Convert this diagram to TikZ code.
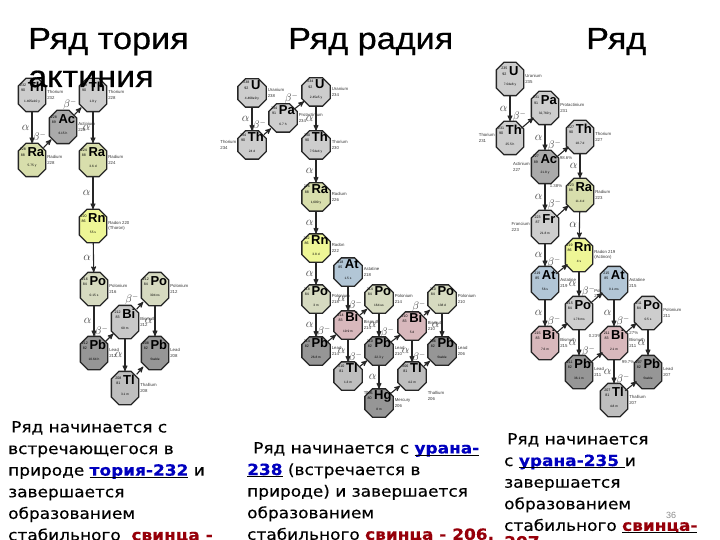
\documentclass[tikz,border=0pt]{standalone}
\usepackage{xcolor}
\usepackage{fontspec}
\setmainfont[FakeStretch=1.1,FakeBold=0.4]{DejaVu Sans}
\newfontfamily\titlefont[FakeStretch=1.12,FakeBold=0.6]{Liberation Sans}
\newfontfamily\smallfont{Liberation Sans}
\definecolor{thGray}{RGB}{205,205,205}
\definecolor{acGray}{RGB}{170,170,170}
\definecolor{raGreen}{RGB}{216,222,172}
\definecolor{rnYellow}{RGB}{238,246,150}
\definecolor{poGreen}{RGB}{214,218,192}
\definecolor{biPink}{RGB}{216,184,188}
\definecolor{biGray}{RGB}{200,200,200}
\definecolor{pbGray}{RGB}{150,150,150}
\definecolor{tlGray}{RGB}{190,190,190}
\definecolor{atBlue}{RGB}{178,198,214}
\definecolor{linkBlue}{RGB}{0,0,190}
\definecolor{leadRed}{RGB}{150,0,10}
\usepackage{tikz}
\usetikzlibrary{arrows,shapes,positioning}
\makeatletter
\pgfdeclareshape{nuclidebox}{
  \inheritsavedanchors[from=rectangle]
  \inheritanchorborder[from=rectangle]
  \inheritanchor[from=rectangle]{center}
  \inheritanchor[from=rectangle]{north}
  \inheritanchor[from=rectangle]{south}
  \inheritanchor[from=rectangle]{east}
  \inheritanchor[from=rectangle]{west}
  \inheritanchor[from=rectangle]{north east}
  \inheritanchor[from=rectangle]{north west}
  \inheritanchor[from=rectangle]{south east}
  \inheritanchor[from=rectangle]{south west}
  \backgroundpath{
    \southwest \pgf@xa=\pgf@x \pgf@ya=\pgf@y
    \northeast \pgf@xb=\pgf@x \pgf@yb=\pgf@y
    \pgfpathmoveto{\pgfpoint{\pgf@xa}{\pgf@ya+7.5pt}}
    \pgfpathlineto{\pgfpoint{\pgf@xa}{\pgf@yb-7.5pt}}
    \pgfpathlineto{\pgfpoint{\pgf@xa+7.5pt}{\pgf@yb}}
    \pgfpathlineto{\pgfpoint{\pgf@xb-7.5pt}{\pgf@yb}}
    \pgfpathlineto{\pgfpoint{\pgf@xb}{\pgf@yb-7.5pt}}
    \pgfpathlineto{\pgfpoint{\pgf@xb}{\pgf@ya+7.5pt}}
    \pgfpathlineto{\pgfpoint{\pgf@xb-7.5pt}{\pgf@ya}}
    \pgfpathlineto{\pgfpoint{\pgf@xa+7.5pt}{\pgf@ya}}
    \pgfpathclose
  }
}
\makeatother
\tikzstyle{nuclide}=[nuclidebox, draw=black!85, line width=1.3pt, inner sep=0pt, minimum width=27pt, minimum height=27pt, text=black]
\tikzstyle{tall}=[minimum width=26pt, minimum height=32pt]
\tikzstyle{namemark}=[font=\smallfont\fontsize{4.3}{5.6}\selectfont, align=left, text=black!80, inner sep=1.5pt]
\tikzstyle{decayarrow}=[->, >=stealth', line width=1.1pt, color=black!85]
\tikzstyle{betaarrow}=[decayarrow, shorten >=-3pt, shorten <=-3pt]
\tikzstyle{alphamark}=[midway, left, font=\fontsize{12}{12}\selectfont, inner sep=2pt, text=black!75]
\tikzstyle{betamark}=[midway, above left, font=\fontsize{10.5}{10.5}\selectfont, inner sep=0.5pt, text=black!75]
\tikzstyle{percentmark}=[font=\smallfont\fontsize{4.3}{5}\selectfont, text=black!75, inner sep=0pt]
\tikzstyle{titletext}=[anchor=base west, font=\titlefont\fontsize{30.5}{30.5}\selectfont, inner sep=0pt]
\tikzstyle{bodytext}=[anchor=north west, align=left, font=\fontsize{15.4}{21.6}\selectfont, inner sep=0pt]
\newcommand{\nuc}[4]{\smash{\makebox[0pt]{\parbox[c]{26pt}{\centering\smallfont{\fontsize{3.6}{3.8}\selectfont\shortstack{#1\\#2}}\,{\fontsize{13}{13}\selectfont\bfseries #3}\\[-1.5pt]{\fontsize{3.2}{4}\selectfont #4}}}}}
\newcommand{\thlink}[1]{\underline{\smash{\textcolor{linkBlue}{\textbf{#1}}}}}
\newcommand{\pblink}[1]{\underline{\smash{\textcolor{leadRed}{\textbf{#1}}}}}

\begin{document}
\begin{tikzpicture}[x=1pt,y=-1pt]
        \useasboundingbox (0,0) rectangle (720,540);

        % Ряд тория
        \node[nuclide, tall, fill=thGray, label={[namemark]right:Thorium\\232}] (th232) at (32,95) {\nuc{232}{90}{Th}{1.405e10 y}};
        \node[nuclide, tall, fill=raGreen, label={[namemark]right:Radium\\228}] (ra228) at (32,160) {\nuc{228}{88}{Ra}{5.75 y}};
        \node[nuclide, tall, fill=acGray, label={[namemark]right:Actinium\\228}] (ac228) at (63,127) {\nuc{228}{89}{Ac}{6.15 h}};
        \node[nuclide, tall, fill=thGray, label={[namemark]right:Thorium\\228}] (th228) at (93,95) {\nuc{228}{90}{Th}{1.9 y}};
        \node[nuclide, tall, fill=raGreen, label={[namemark]right:Radium\\224}] (ra224) at (93,160) {\nuc{224}{88}{Ra}{3.6 d}};
        \node[nuclide, tall, fill=rnYellow, label={[namemark]right:Radon 220\\(Thoron)}] (rn220) at (93,226) {\nuc{220}{86}{Rn}{55 s}};
        \node[nuclide, tall, fill=poGreen, label={[namemark]right:Polonium\\216}] (po216) at (94,289) {\nuc{216}{84}{Po}{0.15 s}};
        \node[nuclide, tall, fill=pbGray, label={[namemark]right:Lead\\212}] (pb212) at (94,353) {\nuc{212}{82}{Pb}{10.64 h}};
        \node[nuclide, tall, fill=biGray, label={[namemark]right:Bismuth\\212}] (bi212) at (125,322) {\nuc{212}{83}{Bi}{60 m}};
        \node[nuclide, tall, fill=poGreen, label={[namemark]right:Polonium\\212}] (po212) at (155,289) {\nuc{212}{84}{Po}{304 ns}};
        \node[nuclide, tall, fill=pbGray, label={[namemark]right:Lead\\208}] (pb208) at (155,353) {\nuc{208}{82}{Pb}{Stable}};
        \node[nuclide, tall, fill=tlGray, label={[namemark]right:Thallium\\208}] (tl208) at (125,388) {\nuc{208}{81}{Tl}{3.1 m}};

        \draw[decayarrow] (th232) -- node[alphamark] {$\alpha$} (ra228);
        \draw[betaarrow] (ra228) -- node[betamark] {$\beta^-$} (ac228);
        \draw[betaarrow] (ac228) -- node[betamark] {$\beta^-$} (th228);
        \draw[decayarrow] (th228) -- node[alphamark] {$\alpha$} (ra224);
        \draw[decayarrow] (ra224) -- node[alphamark] {$\alpha$} (rn220);
        \draw[decayarrow] (rn220) -- node[alphamark] {$\alpha$} (po216);
        \draw[decayarrow] (po216) -- node[alphamark] {$\alpha$} (pb212);
        \draw[betaarrow] (pb212) -- node[betamark] {$\beta^-$} (bi212);
        \draw[betaarrow] (bi212) -- node[betamark] {$\beta^-$} (po212);
        \draw[decayarrow] (bi212) -- node[alphamark] {$\alpha$} (tl208);
        \draw[decayarrow] (po212) -- node[alphamark] {$\alpha$} (pb208);
        \draw[betaarrow] (tl208) -- (pb208);

        % Ряд радия
        \node[nuclide, fill=thGray, label={[namemark]right:Uranium\\238}] (u238) at (252,93) {\nuc{238}{92}{U}{4.468e9 y}};
        \node[nuclide, fill=thGray, label={[namemark]left:Thorium\\234}] (th234) at (252,145) {\nuc{234}{90}{Th}{24 d}};
        \node[nuclide, fill=thGray, label={[namemark]right:Protactinium\\234}] (pa234) at (283,118) {\nuc{234}{91}{Pa}{6.7 h}};
        \node[nuclide, fill=thGray, label={[namemark]right:Uranium\\234}] (u234) at (316,92) {\nuc{234}{92}{U}{2.45e5 y}};
        \node[nuclide, fill=thGray, label={[namemark]right:Thorium\\230}] (th230) at (316,145) {\nuc{230}{90}{Th}{7.54e4 y}};
        \node[nuclide, fill=raGreen, label={[namemark]right:Radium\\226}] (ra226) at (316,197) {\nuc{226}{88}{Ra}{1,600 y}};
        \node[nuclide, fill=rnYellow, label={[namemark]right:Radon\\222}] (rn222) at (316,248) {\nuc{222}{86}{Rn}{3.8 d}};
        \node[nuclide, fill=atBlue, label={[namemark]right:Astatine\\218}] (at218) at (348,272) {\nuc{218}{85}{At}{1.5 s}};
        \node[nuclide, fill=poGreen, label={[namemark]right:Polonium\\218}] (po218) at (316,299) {\nuc{218}{84}{Po}{3 m}};
        \node[nuclide, fill=biPink, label={[namemark]right:Bismuth\\214}] (bi214) at (348,325) {\nuc{214}{83}{Bi}{19.9 m}};
        \node[nuclide, fill=poGreen, label={[namemark]right:Polonium\\214}] (po214) at (379,299) {\nuc{214}{84}{Po}{164 us}};
        \node[nuclide, fill=pbGray, label={[namemark]right:Lead\\214}] (pb214) at (316,351) {\nuc{214}{82}{Pb}{26.8 m}};
        \node[nuclide, fill=tlGray, label={[namemark]below right:Thallium\\210}] (tl210) at (348,376) {\nuc{210}{81}{Tl}{1.3 m}};
        \node[nuclide, fill=pbGray, label={[namemark]right:Lead\\210}] (pb210) at (379,351) {\nuc{210}{82}{Pb}{22.3 y}};
        \node[nuclide, fill=biPink, label={[namemark]right:Bismuth\\210}] (bi210) at (412,326) {\nuc{210}{83}{Bi}{5 d}};
        \node[nuclide, fill=poGreen, label={[namemark]right:Polonium\\210}] (po210) at (442,299) {\nuc{210}{84}{Po}{138 d}};
        \node[nuclide, fill=pbGray, label={[namemark]right:Lead\\206}] (pb206) at (442,351) {\nuc{206}{82}{Pb}{Stable}};
        \node[nuclide, fill=tlGray, label={[namemark]below right:Thallium\\206}] (tl206) at (412,376) {\nuc{206}{81}{Tl}{4.2 m}};
        \node[nuclide, fill=pbGray, label={[namemark]right:Mercury\\206}] (hg206) at (379,403) {\nuc{206}{80}{Hg}{8 m}};

        \draw[decayarrow] (u238) -- node[alphamark] {$\alpha$} (th234);
        \draw[betaarrow] (th234) -- node[betamark] {$\beta^-$} (pa234);
        \draw[betaarrow] (pa234) -- node[betamark] {$\beta^-$} (u234);
        \draw[decayarrow] (u234) -- node[alphamark] {$\alpha$} (th230);
        \draw[decayarrow] (th230) -- node[alphamark] {$\alpha$} (ra226);
        \draw[decayarrow] (ra226) -- node[alphamark] {$\alpha$} (rn222);
        \draw[decayarrow] (rn222) -- node[alphamark] {$\alpha$} (po218);
        \draw[decayarrow] (po218) -- node[alphamark] {$\alpha$} (pb214);
        \draw[decayarrow] (at218) -- node[alphamark] {$\alpha$} (bi214);
        \draw[betaarrow] (pb214) -- node[betamark] {$\beta^-$} (bi214);
        \draw[betaarrow] (bi214) -- node[betamark] {$\beta^-$} (po214);
        \draw[decayarrow] (bi214) -- node[alphamark] {$\alpha$} (tl210);
        \draw[decayarrow] (po214) -- node[alphamark] {$\alpha$} (pb210);
        \draw[betaarrow] (tl210) -- node[betamark] {$\beta^-$} (pb210);
        \draw[decayarrow] (pb210) -- node[alphamark] {$\alpha$} (hg206);
        \draw[betaarrow] (pb210) -- node[betamark] {$\beta^-$} (bi210);
        \draw[betaarrow] (bi210) -- node[betamark] {$\beta^-$} (po210);
        \draw[decayarrow] (bi210) -- node[alphamark] {$\alpha$} (tl206);
        \draw[decayarrow] (po210) -- node[alphamark] {$\alpha$} (pb206);
        \draw[betaarrow] (tl206) -- node[betamark] {$\beta^-$} (pb206);
        \draw[betaarrow] (hg206) -- (tl206);

        % Ряд актиния
        \node[nuclide, tall, fill=thGray, label={[namemark]right:Uranium\\235}] (u235) at (510,79) {\nuc{235}{92}{U}{7.04e8 y}};
        \node[nuclide, tall, fill=thGray, label={[namemark]left:Thorium\\231}] (th231) at (510,138) {\nuc{231}{90}{Th}{25.5 h}};
        \node[nuclide, tall, fill=thGray, label={[namemark]right:Protactinium\\231}] (pa231) at (545,108) {\nuc{231}{91}{Pa}{32,760 y}};
        \node[nuclide, tall, fill=acGray, label={[namemark]left:Actinium\\227}] (ac227) at (545,167) {\nuc{227}{89}{Ac}{21.8 y}};
        \node[nuclide, tall, fill=thGray, label={[namemark]right:Thorium\\227}] (th227) at (580,137) {\nuc{227}{90}{Th}{18.7 d}};
        \node[nuclide, tall, fill=raGreen, label={[namemark]right:Radium\\223}] (ra223) at (580,195) {\nuc{223}{88}{Ra}{11.4 d}};
        \node[nuclide, tall, fill=thGray, label={[namemark]left:Francium\\223}] (fr223) at (545,227) {\nuc{223}{87}{Fr}{21.8 m}};
        \node[nuclide, tall, fill=rnYellow, label={[namemark]right:Radon 219\\(Actinon)}] (rn219) at (579,255) {\nuc{219}{86}{Rn}{4 s}};
        \node[nuclide, tall, fill=atBlue, label={[namemark]right:Astatine\\219}] (at219) at (545,283) {\nuc{219}{85}{At}{56 s}};
        \node[nuclide, tall, fill=biPink, label={[namemark]right:Bismuth\\215}] (bi215) at (545,343) {\nuc{215}{83}{Bi}{7.6 m}};
        \node[nuclide, tall, fill=thGray, label={[namemark]above right:Polonium\\215}] (po215) at (579,313) {\nuc{215}{84}{Po}{1.78 ms}};
        \node[nuclide, tall, fill=atBlue, label={[namemark]right:Astatine\\215}] (at215) at (614,283) {\nuc{215}{85}{At}{0.1 ms}};
        \node[nuclide, tall, fill=pbGray, label={[namemark]right:Lead\\211}] (pb211) at (579,372) {\nuc{211}{82}{Pb}{36.1 m}};
        \node[nuclide, tall, fill=biPink, label={[namemark]right:Bismuth\\211}] (bi211) at (614,343) {\nuc{211}{83}{Bi}{2.1 m}};
        \node[nuclide, tall, fill=thGray, label={[namemark]right:Polonium\\211}] (po211) at (648,313) {\nuc{211}{84}{Po}{0.5 s}};
        \node[nuclide, tall, fill=pbGray, label={[namemark]right:Lead\\207}] (pb207) at (648,372) {\nuc{207}{82}{Pb}{Stable}};
        \node[nuclide, tall, fill=tlGray, label={[namemark]right:Thallium\\207}] (tl207) at (614,400) {\nuc{207}{81}{Tl}{4.8 m}};

        \draw[decayarrow] (u235) -- node[alphamark] {$\alpha$} (th231);
        \draw[betaarrow] (th231) -- node[betamark] {$\beta^-$} (pa231);
        \draw[decayarrow] (pa231) -- node[alphamark] {$\alpha$} (ac227);
        \draw[betaarrow] (ac227) -- node[betamark] {$\beta^-$} (th227);
        \draw[decayarrow] (th227) -- node[alphamark] {$\alpha$} (ra223);
        \draw[decayarrow] (ac227) -- node[alphamark] {$\alpha$} (fr223);
        \draw[betaarrow] (fr223) -- node[betamark] {$\beta^-$} (ra223);
        \draw[decayarrow] (ra223) -- node[alphamark] {$\alpha$} (rn219);
        \draw[decayarrow] (fr223) -- node[alphamark] {$\alpha$} (at219);
        \draw[betaarrow] (at219) -- node[betamark] {$\beta^-$} (rn219);
        \draw[decayarrow] (rn219) -- node[alphamark] {$\alpha$} (po215);
        \draw[decayarrow] (at219) -- node[alphamark] {$\alpha$} (bi215);
        \draw[betaarrow] (bi215) -- node[betamark] {$\beta^-$} (po215);
        \draw[betaarrow] (po215) -- node[betamark] {$\beta^-$} (at215);
        \draw[decayarrow] (po215) -- node[alphamark] {$\alpha$} (pb211);
        \draw[decayarrow] (at215) -- node[alphamark] {$\alpha$} (bi211);
        \draw[betaarrow] (pb211) -- node[betamark] {$\beta^-$} (bi211);
        \draw[betaarrow] (bi211) -- node[betamark] {$\beta^-$} (po211);
        \draw[decayarrow] (bi211) -- node[alphamark] {$\alpha$} (tl207);
        \draw[decayarrow] (po211) -- node[alphamark] {$\alpha$} (pb207);
        \draw[betaarrow] (tl207) -- node[betamark] {$\beta^-$} (pb207);

        % Проценты у ветвлений
        \node[percentmark] (pc1) at (566,158) {98.6\%};
        \node[percentmark] (pc2) at (556,186) {1.38\%};
        \node[percentmark] (pc3) at (595,336) {0.23\%};
        \node[percentmark] (pc4) at (632,333) {0.27\%};
        \node[percentmark] (pc5) at (628,362) {99.7\%};

        % Заголовки
        \node[titletext] (title1) at (28,49) {Ряд тория};
        \node[titletext] (title2) at (28,87) {актиния};
        \node[titletext] (title3) at (288,49) {Ряд радия};
        \node[titletext] (title4) at (586,49) {Ряд};

        % Подписи
        \node[bodytext] (text1) at (8,421) {\hspace{3pt}Ряд начинается с\\встречающегося в\\природе \thlink{тория-232} и\\завершается\\образованием\\стабильного \ \pblink{свинца -}};
        \node[bodytext] (text2) at (247,442) {\hspace{6pt}Ряд начинается с \thlink{урана-}\\\thlink{238} (встречается в\\природе) и завершается\\образованием\\стабильного \pblink{свинца - 206.}};
        \node[bodytext] (text3) at (504,433) {\hspace{3pt}Ряд начинается\\с \thlink{урана-235 }и\\завершается\\образованием\\стабильного \pblink{свинца-}\\[-5pt]\textcolor{leadRed}{\textbf{207.}}};
        \node[font=\smallfont\fontsize{9}{9}\selectfont, text=black!45] (pagenum) at (671,515) {36};
\end{tikzpicture}
\end{document}
